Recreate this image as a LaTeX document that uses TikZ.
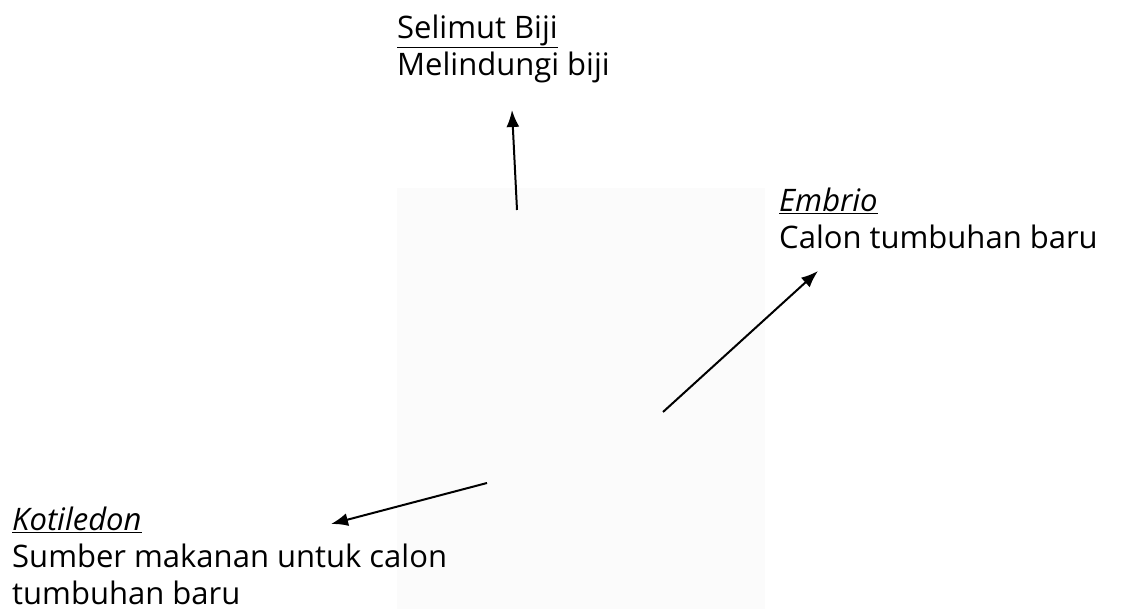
\documentclass[tikz,border=0pt]{standalone}
\usepackage{fontspec}
\setmainfont{Open Sans}
\usepackage{tikz}
\usetikzlibrary{arrows.meta,positioning}
\definecolor{seedbg}{RGB}{251,251,251}

\begin{document}
\begin{tikzpicture}[x=1pt, y=-1pt,
  label/.style={anchor=north west, inner sep=0pt, align=left, font=\fontsize{31}{37}\selectfont},
  pointer/.style={-{Latex[length=17pt,width=13pt]}, line width=2pt}]
\useasboundingbox (0,0) rectangle (1137,609);
% ---- seed area
\fill[seedbg] (397,188) rectangle (765,609);
% ---- labels
\node[label] (selimut) at (397,15) {\underline{Selimut Biji}\\Melindungi biji};
\node[label] (embrio) at (779,188) {\underline{\textit{Embrio}}\\Calon tumbuhan baru};
\node[label] (kotiledon) at (12,507) {\underline{\textit{Kotiledon}}\\Sumber makanan untuk calon\\tumbuhan baru};
% ---- pointer ends
\coordinate (selimut tail) at (517,210);
\coordinate (selimut tip) at (512,110);
\coordinate (embrio tail) at (663,412);
\coordinate (embrio tip) at (818,271);
\coordinate (kotiledon tail) at (487,483);
\coordinate (kotiledon tip) at (331,524);
% ---- pointers
\draw[pointer] (selimut tail) -- (selimut tip);
\draw[pointer] (embrio tail) -- (embrio tip);
\draw[pointer] (kotiledon tail) -- (kotiledon tip);
\end{tikzpicture}
\end{document}
